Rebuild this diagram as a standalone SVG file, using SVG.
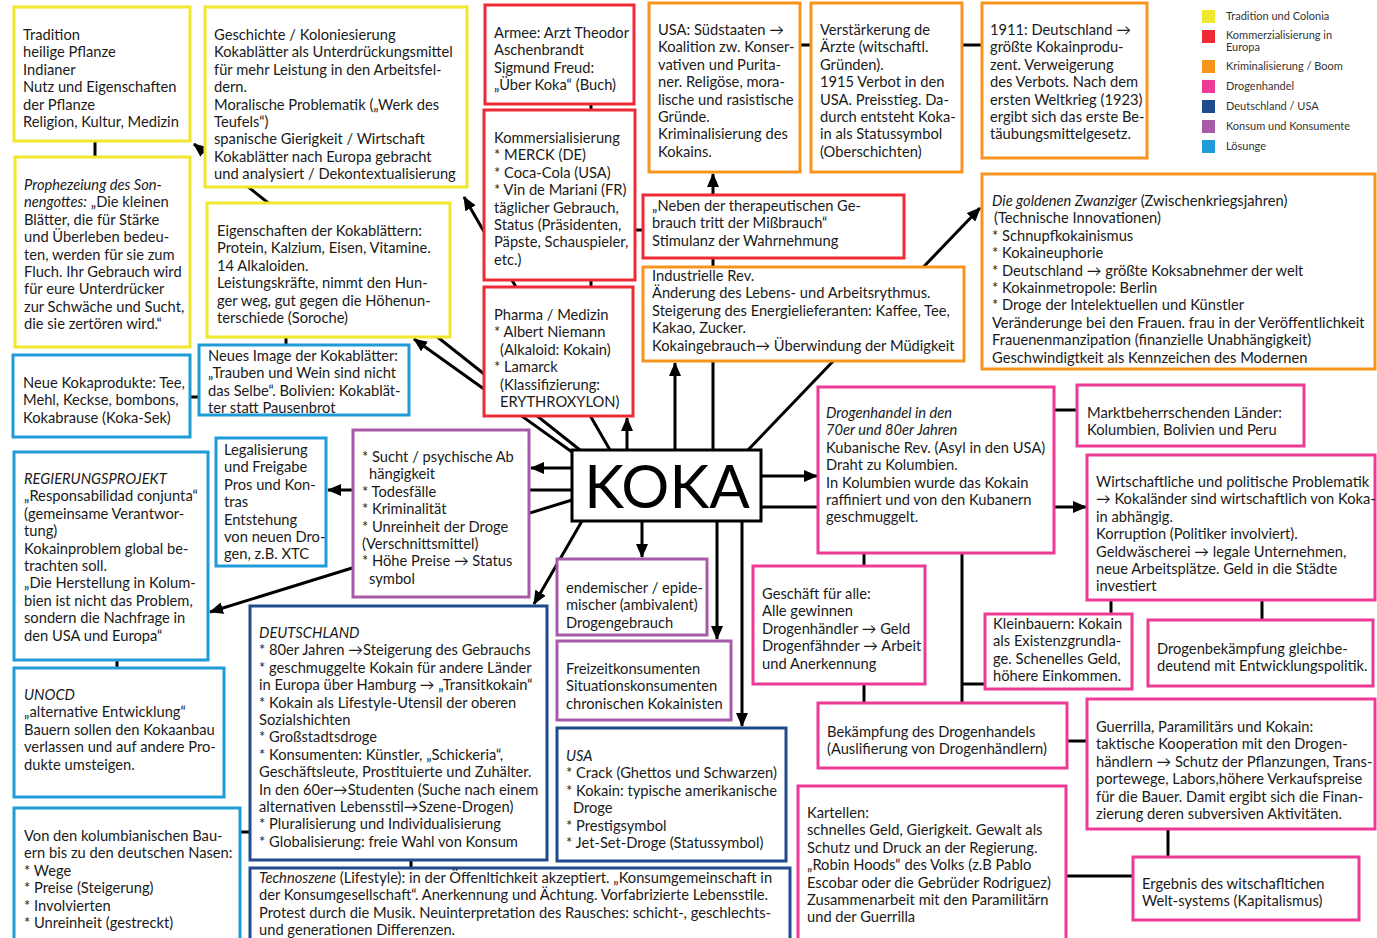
<svg xmlns="http://www.w3.org/2000/svg" width="1377" height="938" viewBox="0 0 1377 938">
<style>
.b{fill:#fff;stroke-width:3}
.y{stroke:#f0e82c}.r{stroke:#ed2a36}.o{stroke:#f7941e}.p{stroke:#ec3a96}.d{stroke:#1f4a8c}.v{stroke:#a65aa7}.l{stroke:#1f9bd7}
text{font-family:Lato,"Open Sans","Liberation Sans",sans-serif;font-size:14.7px;fill:#1a1a1a}
.i{font-style:italic}
.lg{font-size:11px;fill:#333}
#connectors line{stroke:#000;stroke-width:3}
</style>
<defs>
<marker id="ah" markerUnits="userSpaceOnUse" markerWidth="14" markerHeight="12" refX="13" refY="6" orient="auto"><path d="M0,0 L14,6 L0,12 z" fill="#000"/></marker>
</defs>
<rect width="1377" height="938" fill="#fff"/>
<g id="connectors">
<line x1="95" y1="141" x2="95" y2="157"/>
<line x1="580" y1="450" x2="194" y2="144" marker-end="url(#ah)"/>
<line x1="610" y1="450" x2="464" y2="197" marker-end="url(#ah)"/>
<line x1="572" y1="452" x2="414" y2="339" marker-end="url(#ah)"/>
<line x1="286" y1="337" x2="286" y2="345"/>
<line x1="190" y1="397" x2="199" y2="397"/>
<line x1="627" y1="450" x2="627" y2="418" marker-end="url(#ah)"/>
<line x1="591" y1="104" x2="591" y2="110"/>
<line x1="591" y1="280" x2="591" y2="287"/>
<line x1="635" y1="230" x2="643" y2="230"/>
<line x1="713" y1="450" x2="713" y2="174" marker-end="url(#ah)"/>
<line x1="675" y1="450" x2="675" y2="363" marker-end="url(#ah)"/>
<line x1="800" y1="45" x2="811" y2="45"/>
<line x1="962" y1="45" x2="982" y2="45"/>
<line x1="748" y1="450" x2="980" y2="208" marker-end="url(#ah)"/>
<line x1="761" y1="476" x2="817" y2="476" marker-end="url(#ah)"/>
<line x1="761" y1="507" x2="818" y2="507"/>
<line x1="1054" y1="410" x2="1077" y2="410"/>
<line x1="1054" y1="507" x2="1086" y2="507" marker-end="url(#ah)"/>
<line x1="1111" y1="600" x2="1111" y2="614"/>
<line x1="1262" y1="600" x2="1262" y2="620"/>
<line x1="864" y1="553" x2="864" y2="566"/>
<line x1="864" y1="684" x2="864" y2="703"/>
<line x1="962" y1="553" x2="962" y2="703"/>
<line x1="962" y1="684" x2="985" y2="684"/>
<line x1="1067" y1="741" x2="1087" y2="741"/>
<line x1="1168" y1="829" x2="1168" y2="857"/>
<line x1="1066" y1="876" x2="1133" y2="876"/>
<line x1="572" y1="468" x2="531" y2="468" marker-end="url(#ah)"/>
<line x1="572" y1="490" x2="328" y2="490" marker-end="url(#ah)"/>
<line x1="572" y1="500" x2="210" y2="612" marker-end="url(#ah)"/>
<line x1="642" y1="521" x2="642" y2="557" marker-end="url(#ah)"/>
<line x1="717" y1="521" x2="717" y2="639" marker-end="url(#ah)"/>
<line x1="742" y1="521" x2="742" y2="726" marker-end="url(#ah)"/>
<line x1="582" y1="521" x2="534" y2="604" marker-end="url(#ah)"/>
<line x1="117" y1="660" x2="117" y2="668"/>
<line x1="240" y1="832" x2="250" y2="832"/>
<line x1="411" y1="860" x2="411" y2="868"/>
</g>

<g id="tradition"><rect class="b y" x="14" y="7" width="176" height="134"/>
<text x="23" y="40"><tspan x="23">Tradition</tspan><tspan x="23" dy="17.4">heilige Pflanze</tspan><tspan x="23" dy="17.4">Indianer</tspan><tspan x="23" dy="17.4">Nutz und Eigenschaften</tspan><tspan x="23" dy="17.4">der Pflanze</tspan><tspan x="23" dy="17.4">Religion, Kultur, Medizin</tspan></text></g>

<g id="prophezeiung"><rect class="b y" x="15" y="157" width="175" height="190"/>
<text x="24" y="190"><tspan x="24" class="i">Prophezeiung des Son-</tspan><tspan x="24" dy="17.4"><tspan class="i">nengottes:</tspan> „Die kleinen</tspan><tspan x="24" dy="17.4">Blätter, die für Stärke</tspan><tspan x="24" dy="17.4">und Überleben bedeu-</tspan><tspan x="24" dy="17.4">ten, werden für sie zum</tspan><tspan x="24" dy="17.4">Fluch. Ihr Gebrauch wird</tspan><tspan x="24" dy="17.4">für eure Unterdrücker</tspan><tspan x="24" dy="17.4">zur Schwäche und Sucht,</tspan><tspan x="24" dy="17.4">die sie zertören wird.“</tspan></text></g>

<g id="geschichte"><rect class="b y" x="205" y="7" width="262" height="180"/>
<text x="214" y="40"><tspan x="214">Geschichte / Koloniesierung</tspan><tspan x="214" dy="17.4">Kokablätter als Unterdrückungsmittel</tspan><tspan x="214" dy="17.4">für mehr Leistung in den Arbeitsfel-</tspan><tspan x="214" dy="17.4">dern.</tspan><tspan x="214" dy="17.4">Moralische Problematik („Werk des</tspan><tspan x="214" dy="17.4">Teufels“)</tspan><tspan x="214" dy="17.4">spanische Gierigkeit / Wirtschaft</tspan><tspan x="214" dy="17.4">Kokablätter nach Europa gebracht</tspan><tspan x="214" dy="17.4">und analysiert / Dekontextualisierung</tspan></text></g>

<g id="eigenschaften"><rect class="b y" x="207" y="203" width="243" height="134"/>
<text x="217" y="236"><tspan x="217">Eigenschaften der Kokablättern:</tspan><tspan x="217" dy="17.4">Protein, Kalzium, Eisen, Vitamine.</tspan><tspan x="217" dy="17.4">14 Alkaloiden.</tspan><tspan x="217" dy="17.4">Leistungskräfte, nimmt den Hun-</tspan><tspan x="217" dy="17.4">ger weg, gut gegen die Höhenun-</tspan><tspan x="217" dy="17.4">terschiede (Soroche)</tspan></text></g>

<g id="neues-image"><rect class="b l" x="199" y="345" width="210" height="70"/>
<text x="208" y="361"><tspan x="208">Neues Image der Kokablätter:</tspan><tspan x="208" dy="17.4">„Trauben und Wein sind nicht</tspan><tspan x="208" dy="17.4">das Selbe“. Bolivien: Kokablät-</tspan><tspan x="208" dy="17.4">ter statt Pausenbrot</tspan></text></g>

<g id="neue-kokaprodukte"><rect class="b l" x="13" y="355" width="177" height="82"/>
<text x="23" y="388"><tspan x="23">Neue Kokaprodukte: Tee,</tspan><tspan x="23" dy="17.4">Mehl, Keckse, bombons,</tspan><tspan x="23" dy="17.4">Kokabrause (Koka-Sek)</tspan></text></g>

<g id="regierungsprojekt"><rect class="b l" x="14" y="452" width="194" height="208"/>
<text x="24" y="484"><tspan x="24" class="i">REGIERUNGSPROJEKT</tspan><tspan x="24" dy="17.4">„Responsabilidad conjunta“</tspan><tspan x="24" dy="17.4">(gemeinsame Verantwor-</tspan><tspan x="24" dy="17.4">tung)</tspan><tspan x="24" dy="17.4">Kokainproblem global be-</tspan><tspan x="24" dy="17.4">trachten soll.</tspan><tspan x="24" dy="17.4">„Die Herstellung in Kolum-</tspan><tspan x="24" dy="17.4">bien ist nicht das Problem,</tspan><tspan x="24" dy="17.4">sondern die Nachfrage in</tspan><tspan x="24" dy="17.4">den USA und Europa“</tspan></text></g>

<g id="unocd"><rect class="b l" x="14" y="668" width="210" height="129"/>
<text x="24" y="700"><tspan x="24" class="i">UNOCD</tspan><tspan x="24" dy="17.4">„alternative Entwicklung“</tspan><tspan x="24" dy="17.4">Bauern sollen den Kokaanbau</tspan><tspan x="24" dy="17.4">verlassen und auf andere Pro-</tspan><tspan x="24" dy="17.4">dukte umsteigen.</tspan></text></g>

<g id="von-den-bauern"><rect class="b l" x="14" y="808" width="226" height="140"/>
<text x="24" y="841"><tspan x="24">Von den kolumbianischen Bau-</tspan><tspan x="24" dy="17.4">ern bis zu den deutschen Nasen:</tspan><tspan x="24" dy="17.4">* Wege</tspan><tspan x="24" dy="17.4">* Preise (Steigerung)</tspan><tspan x="24" dy="17.4">* Involvierten</tspan><tspan x="24" dy="17.4">* Unreinheit (gestreckt)</tspan></text></g>

<g id="legalisierung"><rect class="b l" x="216" y="438" width="110" height="128"/>
<text x="224" y="455"><tspan x="224">Legalisierung</tspan><tspan x="224" dy="17.4">und Freigabe</tspan><tspan x="224" dy="17.4">Pros und Kon-</tspan><tspan x="224" dy="17.4">tras</tspan><tspan x="224" dy="17.4">Entstehung</tspan><tspan x="224" dy="17.4">von neuen Dro-</tspan><tspan x="224" dy="17.4">gen, z.B. XTC</tspan></text></g>

<g id="sucht"><rect class="b v" x="353" y="430" width="176" height="167"/>
<text x="362" y="462"><tspan x="362">* Sucht / psychische Ab</tspan><tspan x="369" dy="17.4">hängigkeit</tspan><tspan x="362" dy="17.4">* Todesfälle</tspan><tspan x="362" dy="17.4">* Kriminalität</tspan><tspan x="362" dy="17.4">* Unreinheit der Droge</tspan><tspan x="362" dy="17.4">(Verschnittsmittel)</tspan><tspan x="362" dy="17.4">* Höhe Preise → Status</tspan><tspan x="369" dy="17.4">symbol</tspan></text></g>

<g id="koka"><rect x="572" y="450" width="189" height="71" fill="#fff" stroke="#000" stroke-width="3"/>
<text x="667" y="508" text-anchor="middle" style="font-size:60px;fill:#000">KOKA</text></g>

<g id="armee"><rect class="b r" x="485" y="5" width="149" height="99"/>
<text x="494" y="38"><tspan x="494">Armee: Arzt Theodor</tspan><tspan x="494" dy="17.4">Aschenbrandt</tspan><tspan x="494" dy="17.4">Sigmund Freud:</tspan><tspan x="494" dy="17.4">„Über Koka“ (Buch)</tspan></text></g>

<g id="kommersialisierung"><rect class="b r" x="484" y="110" width="151" height="170"/>
<text x="494" y="143"><tspan x="494">Kommersialisierung</tspan><tspan x="494" dy="17.4">* MERCK (DE)</tspan><tspan x="494" dy="17.4">* Coca-Cola (USA)</tspan><tspan x="494" dy="17.4">* Vin de Mariani (FR)</tspan><tspan x="494" dy="17.4">täglicher Gebrauch,</tspan><tspan x="494" dy="17.4">Status (Präsidenten,</tspan><tspan x="494" dy="17.4">Päpste, Schauspieler,</tspan><tspan x="494" dy="17.4">etc.)</tspan></text></g>

<g id="pharma"><rect class="b r" x="484" y="287" width="149" height="129"/>
<text x="494" y="320"><tspan x="494">Pharma / Medizin</tspan><tspan x="494" dy="17.4">* Albert Niemann</tspan><tspan x="500" dy="17.4">(Alkaloid: Kokain)</tspan><tspan x="494" dy="17.4">* Lamarck</tspan><tspan x="500" dy="17.4">(Klassifizierung:</tspan><tspan x="500" dy="17.4">ERYTHROXYLON)</tspan></text></g>

<g id="neben"><rect class="b r" x="643" y="195" width="261" height="63"/>
<text x="652" y="211"><tspan x="652">„Neben der therapeutischen Ge-</tspan><tspan x="652" dy="17.4">brauch tritt der Mißbrauch“</tspan><tspan x="652" dy="17.4">Stimulanz der Wahrnehmung</tspan></text></g>

<g id="usa-suedstaaten"><rect class="b o" x="649" y="3" width="151" height="169"/>
<text x="658" y="35"><tspan x="658">USA: Südstaaten →</tspan><tspan x="658" dy="17.4">Koalition zw. Konser-</tspan><tspan x="658" dy="17.4">vativen und Purita-</tspan><tspan x="658" dy="17.4">ner. Religöse, mora-</tspan><tspan x="658" dy="17.4">lische und rasistische</tspan><tspan x="658" dy="17.4">Gründe.</tspan><tspan x="658" dy="17.4">Kriminalisierung des</tspan><tspan x="658" dy="17.4">Kokains.</tspan></text></g>

<g id="verstaerkerung"><rect class="b o" x="811" y="3" width="151" height="169"/>
<text x="820" y="35"><tspan x="820">Verstärkerung de</tspan><tspan x="820" dy="17.4">Ärzte (witschaftl.</tspan><tspan x="820" dy="17.4">Gründen).</tspan><tspan x="820" dy="17.4">1915 Verbot in den</tspan><tspan x="820" dy="17.4">USA. Preisstieg. Da-</tspan><tspan x="820" dy="17.4">durch entsteht Koka-</tspan><tspan x="820" dy="17.4">in als Statussymbol</tspan><tspan x="820" dy="17.4">(Oberschichten)</tspan></text></g>

<g id="deutschland-1911"><rect class="b o" x="982" y="3" width="165" height="155"/>
<text x="990" y="35"><tspan x="990">1911: Deutschland →</tspan><tspan x="990" dy="17.4">größte Kokainprodu-</tspan><tspan x="990" dy="17.4">zent. Verweigerung</tspan><tspan x="990" dy="17.4">des Verbots. Nach dem</tspan><tspan x="990" dy="17.4">ersten Weltkrieg (1923)</tspan><tspan x="990" dy="17.4">ergibt sich das erste Be-</tspan><tspan x="990" dy="17.4">täubungsmittelgesetz.</tspan></text></g>

<g id="industrielle"><rect class="b o" x="643" y="267" width="321" height="94"/>
<text x="652" y="281"><tspan x="652">Industrielle Rev.</tspan><tspan x="652" dy="17.4">Änderung des Lebens- und Arbeitsrythmus.</tspan><tspan x="652" dy="17.4">Steigerung des Energielieferanten: Kaffee, Tee,</tspan><tspan x="652" dy="17.4">Kakao, Zucker.</tspan><tspan x="652" dy="17.4">Kokaingebrauch→ Überwindung der Müdigkeit</tspan></text></g>

<g id="goldene-zwanziger"><rect class="b o" x="982" y="174" width="393" height="195"/>
<text x="992" y="206"><tspan x="992"><tspan class="i">Die goldenen Zwanziger</tspan> (Zwischenkriegsjahren)</tspan><tspan x="994" dy="17.4">(Technische Innovationen)</tspan><tspan x="992" dy="17.4">* Schnupfkokainismus</tspan><tspan x="992" dy="17.4">* Kokaineuphorie</tspan><tspan x="992" dy="17.4">* Deutschland → größte Koksabnehmer der welt</tspan><tspan x="992" dy="17.4">* Kokainmetropole: Berlin</tspan><tspan x="992" dy="17.4">* Droge der Intelektuellen und Künstler</tspan><tspan x="992" dy="17.4">Veränderunge bei den Frauen. frau in der Veröffentlichkeit</tspan><tspan x="992" dy="17.4">Frauenenmanzipation (finanzielle Unabhängigkeit)</tspan><tspan x="992" dy="17.4">Geschwindigtkeit als Kennzeichen des Modernen</tspan></text></g>

<g id="drogenhandel"><rect class="b p" x="818" y="387" width="236" height="166"/>
<text x="826" y="418"><tspan x="826" class="i">Drogenhandel in den</tspan><tspan x="826" dy="17.4" class="i">70er und 80er Jahren</tspan><tspan x="826" dy="17.4">Kubanische Rev. (Asyl in den USA)</tspan><tspan x="826" dy="17.4">Draht zu Kolumbien.</tspan><tspan x="826" dy="17.4">In Kolumbien wurde das Kokain</tspan><tspan x="826" dy="17.4">raffiniert und von den Kubanern</tspan><tspan x="826" dy="17.4">geschmuggelt.</tspan></text></g>

<g id="marktbeherrschend"><rect class="b p" x="1077" y="385" width="227" height="61"/>
<text x="1087" y="418"><tspan x="1087">Marktbeherrschenden Länder:</tspan><tspan x="1087" dy="17.4">Kolumbien, Bolivien und Peru</tspan></text></g>

<g id="wirtschaftliche"><rect class="b p" x="1087" y="455" width="288" height="145"/>
<text x="1096" y="487"><tspan x="1096">Wirtschaftliche und politische Problematik</tspan><tspan x="1096" dy="17.4">→ Kokaländer sind wirtschaftlich von Koka-</tspan><tspan x="1096" dy="17.4">in abhängig.</tspan><tspan x="1096" dy="17.4">Korruption (Politiker involviert).</tspan><tspan x="1096" dy="17.4">Geldwäscherei → legale Unternehmen,</tspan><tspan x="1096" dy="17.4">neue Arbeitsplätze. Geld in die Städte</tspan><tspan x="1096" dy="17.4">investiert</tspan></text></g>

<g id="kleinbauern"><rect class="b p" x="985" y="614" width="147" height="75"/>
<text x="993" y="629"><tspan x="993">Kleinbauern: Kokain</tspan><tspan x="993" dy="17.4">als Existenzgrundla-</tspan><tspan x="993" dy="17.4">ge. Schenelles Geld,</tspan><tspan x="993" dy="17.4">höhere Einkommen.</tspan></text></g>

<g id="drogenbekaempfung"><rect class="b p" x="1148" y="620" width="225" height="66"/>
<text x="1157" y="654"><tspan x="1157">Drogenbekämpfung gleichbe-</tspan><tspan x="1157" dy="17.4">deutend mit Entwicklungspolitik.</tspan></text></g>

<g id="geschaeft"><rect class="b p" x="753" y="566" width="172" height="118"/>
<text x="762" y="599"><tspan x="762">Geschäft für alle:</tspan><tspan x="762" dy="17.4">Alle gewinnen</tspan><tspan x="762" dy="17.4">Drogenhändler → Geld</tspan><tspan x="762" dy="17.4">Drogenfähnder → Arbeit</tspan><tspan x="762" dy="17.4">und Anerkennung</tspan></text></g>

<g id="bekaempfung"><rect class="b p" x="818" y="703" width="249" height="65"/>
<text x="827" y="737"><tspan x="827">Bekämpfung des Drogenhandels</tspan><tspan x="827" dy="17.4">(Auslifierung von Drogenhändlern)</tspan></text></g>

<g id="guerrilla"><rect class="b p" x="1087" y="699" width="288" height="130"/>
<text x="1096" y="732"><tspan x="1096">Guerrilla, Paramilitärs und Kokain:</tspan><tspan x="1096" dy="17.4">taktische Kooperation mit den Drogen-</tspan><tspan x="1096" dy="17.4">händlern → Schutz der Pflanzungen, Trans-</tspan><tspan x="1096" dy="17.4">portewege, Labors,höhere Verkaufspreise</tspan><tspan x="1096" dy="17.4">für die Bauer. Damit ergibt sich die Finan-</tspan><tspan x="1096" dy="17.4">zierung deren subversiven Aktivitäten.</tspan></text></g>

<g id="kartellen"><rect class="b p" x="798" y="786" width="268" height="170"/>
<text x="807" y="818"><tspan x="807">Kartellen:</tspan><tspan x="807" dy="17.4">schnelles Geld, Gierigkeit. Gewalt als</tspan><tspan x="807" dy="17.4">Schutz und Druck an der Regierung.</tspan><tspan x="807" dy="17.4">„Robin Hoods“ des Volks (z.B Pablo</tspan><tspan x="807" dy="17.4">Escobar oder die Gebrüder Rodriguez)</tspan><tspan x="807" dy="17.4">Zusammenarbeit mit den Paramilitärn</tspan><tspan x="807" dy="17.4">und der Guerrilla</tspan></text></g>

<g id="ergebnis"><rect class="b p" x="1133" y="857" width="226" height="63"/>
<text x="1142" y="889"><tspan x="1142">Ergebnis des witschafltichen</tspan><tspan x="1142" dy="17.4">Welt-systems (Kapitalismus)</tspan></text></g>

<g id="endemischer"><rect class="b v" x="557" y="559" width="150" height="76"/>
<text x="566" y="593"><tspan x="566">endemischer / epide-</tspan><tspan x="566" dy="17.4">mischer (ambivalent)</tspan><tspan x="566" dy="17.4">Drogengebrauch</tspan></text></g>

<g id="freizeit"><rect class="b v" x="557" y="641" width="174" height="79"/>
<text x="566" y="674"><tspan x="566">Freizeitkonsumenten</tspan><tspan x="566" dy="17.4">Situationskonsumenten</tspan><tspan x="566" dy="17.4">chronischen Kokainisten</tspan></text></g>

<g id="usa"><rect class="b d" x="557" y="728" width="229" height="133"/>
<text x="566" y="761"><tspan x="566" class="i">USA</tspan><tspan x="566" dy="17.4">* Crack (Ghettos und Schwarzen)</tspan><tspan x="566" dy="17.4">* Kokain: typische amerikanische</tspan><tspan x="573" dy="17.4">Droge</tspan><tspan x="566" dy="17.4">* Prestigsymbol</tspan><tspan x="566" dy="17.4">* Jet-Set-Droge (Statussymbol)</tspan></text></g>

<g id="deutschland"><rect class="b d" x="250" y="606" width="297" height="254"/>
<text x="259" y="638"><tspan x="259" class="i">DEUTSCHLAND</tspan><tspan x="259" dy="17.4">* 80er Jahren →Steigerung des Gebrauchs</tspan><tspan x="259" dy="17.4">* geschmuggelte Kokain für andere Länder</tspan><tspan x="259" dy="17.4">in Europa über Hamburg  → „Transitkokain“</tspan><tspan x="259" dy="17.4">* Kokain als Lifestyle-Utensil der oberen</tspan><tspan x="259" dy="17.4">Sozialshichten</tspan><tspan x="259" dy="17.4">* Großstadtsdroge</tspan><tspan x="259" dy="17.4">* Konsumenten: Künstler, „Schickeria“,</tspan><tspan x="259" dy="17.4">Geschäftsleute, Prostituierte und Zuhälter.</tspan><tspan x="259" dy="17.4">In den 60er→Studenten (Suche nach einem</tspan><tspan x="259" dy="17.4">alternativen Lebensstil→Szene-Drogen)</tspan><tspan x="259" dy="17.4">* Pluralisierung und Individualisierung</tspan><tspan x="259" dy="17.4">* Globalisierung: freie Wahl von Konsum</tspan></text></g>

<g id="technoszene"><rect class="b d" x="250" y="868" width="540" height="90"/>
<text x="259" y="883"><tspan x="259"><tspan class="i">Technoszene</tspan> (Lifestyle): in der Öffenltichkeit akzeptiert. „Konsumgemeinschaft in</tspan><tspan x="259" dy="17.4">der Konsumgesellschaft“. Anerkennung und Ächtung. Vorfabrizierte Lebensstile.</tspan><tspan x="259" dy="17.4">Protest durch die Musik. Neuinterpretation des Rausches: schicht-, geschlechts-</tspan><tspan x="259" dy="17.4">und generationen Differenzen.</tspan></text></g>

<g id="legend">
<rect x="1202" y="10" width="13" height="13" fill="#f0e82c"/>
<rect x="1202" y="30" width="13" height="13" fill="#ed2a36"/>
<rect x="1202" y="60" width="13" height="13" fill="#f7941e"/>
<rect x="1202" y="80" width="13" height="13" fill="#ec3a96"/>
<rect x="1202" y="100" width="13" height="13" fill="#1f4a8c"/>
<rect x="1202" y="120" width="13" height="13" fill="#a65aa7"/>
<rect x="1202" y="140" width="13" height="13" fill="#1f9bd7"/>
<text class="lg" x="1226" y="20">Tradition und Colonia</text>
<text class="lg" x="1226" y="39">Kommerzialisierung in</text>
<text class="lg" x="1226" y="51">Europa</text>
<text class="lg" x="1226" y="70">Kriminalisierung / Boom</text>
<text class="lg" x="1226" y="90">Drogenhandel</text>
<text class="lg" x="1226" y="110">Deutschland / USA</text>
<text class="lg" x="1226" y="130">Konsum und Konsumente</text>
<text class="lg" x="1226" y="150">Lösunge</text>
</g>
</svg>
